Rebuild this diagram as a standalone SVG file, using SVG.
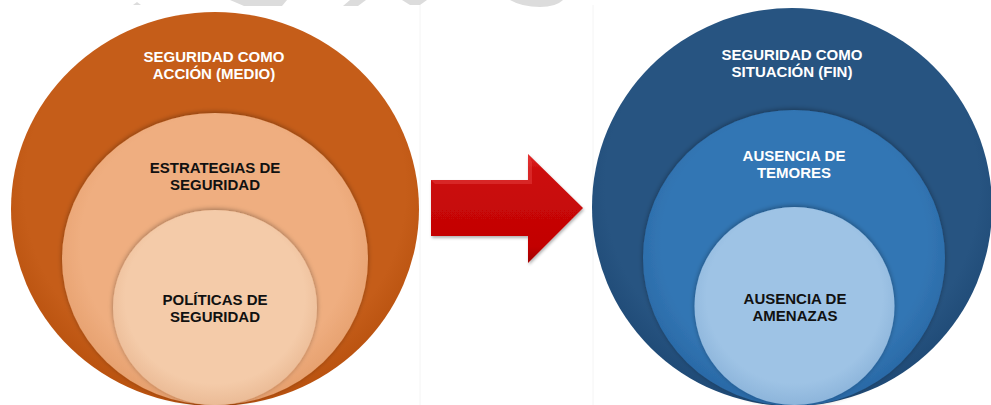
<svg xmlns="http://www.w3.org/2000/svg" width="991" height="405" viewBox="0 0 991 405">
  <defs>
    <radialGradient id="gO1" cx="0.5" cy="0.45" r="0.55">
      <stop offset="0.85" stop-color="#C55D19"/>
      <stop offset="1" stop-color="#B9520F"/>
    </radialGradient>
    <radialGradient id="gO2" cx="0.5" cy="0.45" r="0.55">
      <stop offset="0.8" stop-color="#EFAE80"/>
      <stop offset="1" stop-color="#E6A06E"/>
    </radialGradient>
    <radialGradient id="gO3" cx="0.5" cy="0.45" r="0.55">
      <stop offset="0.8" stop-color="#F4CBA9"/>
      <stop offset="1" stop-color="#EBBB96"/>
    </radialGradient>
    <radialGradient id="gB1" cx="0.5" cy="0.45" r="0.55">
      <stop offset="0.85" stop-color="#275481"/>
      <stop offset="1" stop-color="#1F4A76"/>
    </radialGradient>
    <radialGradient id="gB2" cx="0.5" cy="0.45" r="0.55">
      <stop offset="0.8" stop-color="#3276B4"/>
      <stop offset="1" stop-color="#2A69A6"/>
    </radialGradient>
    <radialGradient id="gB3" cx="0.5" cy="0.45" r="0.55">
      <stop offset="0.8" stop-color="#9EC3E5"/>
      <stop offset="1" stop-color="#8DB5DB"/>
    </radialGradient>
    <linearGradient id="gArrow" x1="0" y1="0" x2="0" y2="1">
      <stop offset="0" stop-color="#E22A2A"/>
      <stop offset="0.15" stop-color="#CC0A0A"/>
      <stop offset="0.85" stop-color="#C20404"/>
      <stop offset="1" stop-color="#A00000"/>
    </linearGradient>
    <filter id="sh" x="-10%" y="-10%" width="120%" height="120%">
      <feDropShadow dx="0" dy="-1" stdDeviation="2.5" flood-color="#000" flood-opacity="0.35"/>
    </filter>
    <filter id="shA" x="-10%" y="-10%" width="120%" height="130%">
      <feDropShadow dx="1" dy="2" stdDeviation="1.5" flood-color="#000" flood-opacity="0.3"/>
    </filter>
  </defs>
  <style>
    .t { font-family: "Liberation Sans", Arial, sans-serif; font-weight: bold; font-size: 15px; text-anchor: middle; }
    .w { fill: #FFFFFF; }
    .k { fill: #111111; }
    .wm { fill: #DCDCDC; }
  </style>

  <rect x="0" y="0" width="991" height="405" fill="#FFFFFF"/>

  <!-- faint watermark fragments -->
  <g id="watermark">
    <polygon class="wm" points="133,5 137,2 141,5"/>
    <polygon class="wm" points="230,0 287,0 282,6 244,6"/>
    <polygon class="wm" points="350,0 366,0 358,6 343,6"/>
    <polygon class="wm" points="402,0 427,0 420,5 410,5"/>
    <path class="wm" d="M510,0 L563,0 Q556,7 540,7 Q522,7 510,0 Z"/>
    <line x1="420" y1="5" x2="420" y2="405" stroke="#F4F4F4" stroke-width="1"/>
    <line x1="593" y1="5" x2="593" y2="405" stroke="#F4F4F4" stroke-width="1"/>
  </g>

  <!-- left nested circles -->
  <g id="accion">
    <ellipse cx="215" cy="209" rx="204" ry="197" fill="url(#gO1)"/>
    <text class="t w" x="214" y="62">SEGURIDAD COMO</text>
    <text class="t w" x="214" y="79">ACCIÓN (MEDIO)</text>
  </g>
  <g id="estrategias">
    <ellipse cx="215" cy="259" rx="153" ry="146" fill="url(#gO2)" filter="url(#sh)"/>
    <text class="t k" x="215" y="173">ESTRATEGIAS DE</text>
    <text class="t k" x="215" y="190">SEGURIDAD</text>
  </g>
  <g id="politicas">
    <ellipse cx="215" cy="307.5" rx="102" ry="97.5" fill="url(#gO3)" filter="url(#sh)"/>
    <text class="t k" x="215" y="305">POLÍTICAS DE</text>
    <text class="t k" x="215" y="322">SEGURIDAD</text>
  </g>

  <!-- connector arrow -->
  <g id="connectors">
    <polygon points="431,180 528,180 528,154 583,208 528,263 528,236 431,236" fill="url(#gArrow)" filter="url(#shA)"/>
    <polygon points="431,180 528,180 528,154 532,162 532,184 435,184" fill="#E84545" opacity="0.45"/>
  </g>

  <!-- right nested circles -->
  <g id="situacion">
    <ellipse cx="792" cy="207" rx="200" ry="199" fill="url(#gB1)"/>
    <text class="t w" x="792" y="60">SEGURIDAD COMO</text>
    <text class="t w" x="792" y="77">SITUACIÓN (FIN)</text>
  </g>
  <g id="temores">
    <ellipse cx="794" cy="258" rx="151" ry="148" fill="url(#gB2)" filter="url(#sh)"/>
    <text class="t w" x="794" y="161">AUSENCIA DE</text>
    <text class="t w" x="794" y="178">TEMORES</text>
  </g>
  <g id="amenazas">
    <ellipse cx="794.5" cy="306" rx="100" ry="99" fill="url(#gB3)" filter="url(#sh)"/>
    <text class="t k" x="795" y="304">AUSENCIA DE</text>
    <text class="t k" x="795" y="321">AMENAZAS</text>
  </g>
</svg>
